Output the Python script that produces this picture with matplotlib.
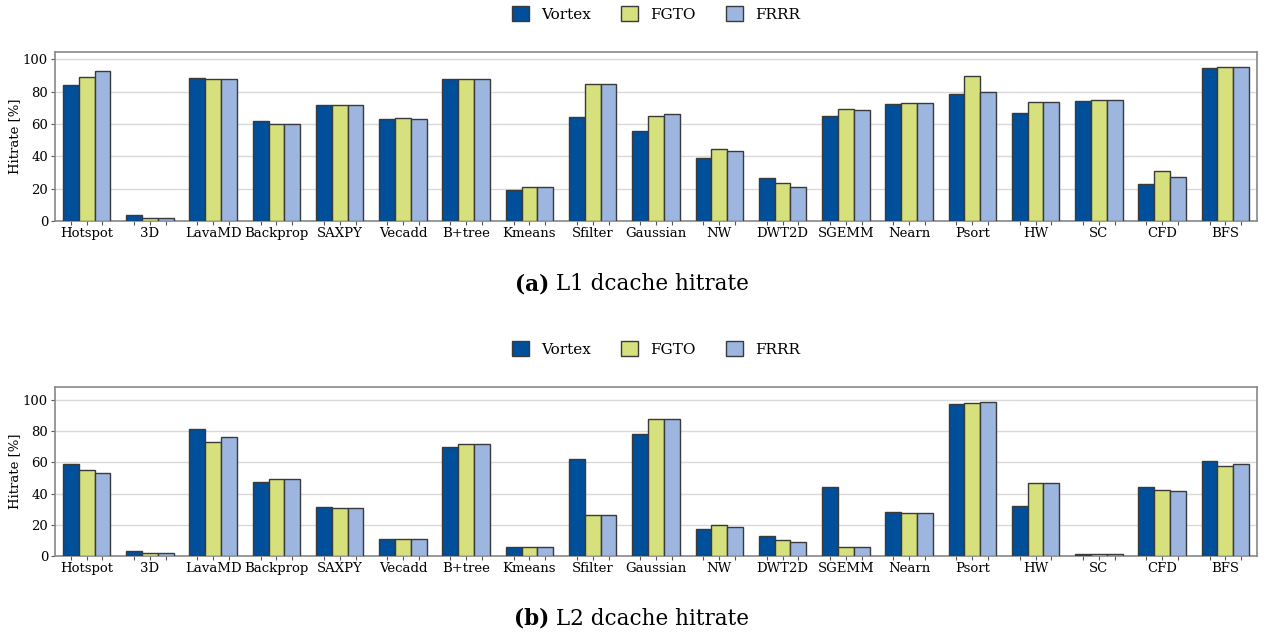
import numpy as np
import matplotlib
matplotlib.use("Agg")
import matplotlib.pyplot as plt

plt.rcParams["font.family"] = "DejaVu Serif"

benchmarks = ["Hotspot", "3D", "LavaMD", "Backprop", "SAXPY", "Vecadd", "B+tree",
              "Kmeans", "Sfilter", "Gaussian", "NW", "DWT2D", "SGEMM", "Nearn",
              "Psort", "HW", "SC", "CFD", "BFS"]
series_names = ["Vortex", "FGTO", "FRRR"]
colors = ["#004f9a", "#d6e07c", "#9db6e0"]

# L1 dcache hitrate (%)
l1_vortex = [84.1, 3.7, 88.6, 62.1, 71.6, 62.9, 87.8, 19.0, 64.2, 55.9, 38.7, 26.3,
             65.2, 72.5, 78.5, 66.5, 74.5, 23.0, 94.6]
l1_fgto = [88.8, 2.1, 87.6, 59.8, 71.6, 63.4, 88.0, 21.1, 84.7, 65.2, 44.5, 23.4,
           69.4, 72.7, 89.4, 73.5, 74.7, 31.1, 95.0]
l1_frrr = [92.5, 1.7, 87.8, 60.2, 71.6, 62.9, 88.0, 21.1, 84.7, 66.0, 43.1, 21.1,
           68.9, 72.7, 79.5, 73.5, 74.7, 26.9, 95.0]

# L2 dcache hitrate (%)
l2_vortex = [58.7, 3.4, 81.4, 47.3, 31.3, 11.1, 70.0, 6.0, 62.5, 78.2, 17.6, 12.6,
             44.5, 28.3, 97.4, 32.1, 1.3, 44.3, 60.6]
l2_fgto = [55.0, 2.1, 73.0, 49.5, 30.8, 11.1, 71.7, 6.0, 26.1, 88.0, 20.1, 10.5,
           6.0, 27.8, 97.9, 46.5, 1.3, 42.6, 58.0]
l2_frrr = [52.9, 1.9, 76.0, 49.3, 31.0, 11.1, 71.7, 6.0, 26.1, 88.0, 18.8, 9.2,
           6.0, 27.6, 98.5, 46.7, 1.3, 41.5, 58.7]

panels = [
    ([l1_vortex, l1_fgto, l1_frrr], "(a)", "L1 dcache hitrate"),
    ([l2_vortex, l2_fgto, l2_frrr], "(b)", "L2 dcache hitrate"),
]

W, H = 1265, 635
fig = plt.figure(figsize=(W / 100, H / 100), dpi=100)

x = np.arange(len(benchmarks))
width = 0.25
axes_top = [52, 387]

for (data, tag, caption), top in zip(panels, axes_top):
    ax = fig.add_axes([55 / W, 1 - (top + 169) / H, 1202 / W, 169 / H])
    ticks = []
    for i, (vals, name, col) in enumerate(zip(data, series_names, colors)):
        pos = x + (i - 1) * width
        ax.bar(pos, vals, width, color=col, edgecolor="#3a3a3a", linewidth=1,
               label=name, zorder=3)
        ticks.extend(pos)
    ticks = np.sort(np.array(ticks))
    # one tick per bar, label only under the middle bar of each group
    labels = [benchmarks[int(round(t))] if abs(t - round(t)) < 1e-6 else "" for t in ticks]
    ax.set_xticks(ticks)
    ax.set_xticklabels(labels, fontsize=9.5)
    ax.tick_params(axis="x", length=3, pad=1, color="#555555")
    ax.tick_params(axis="y", length=3, labelsize=9.5, color="#555555", pad=2)
    ax.set_xlim(-0.5, len(benchmarks) - 0.5)
    ymax = max(max(d) for d in data) * 1.1
    ax.set_ylim(0, ymax)
    ax.set_yticks([0, 20, 40, 60, 80, 100])
    ax.set_ylabel("Hitrate [%]", fontsize=9.5, labelpad=1)
    ax.grid(axis="y", color="#d9d9d9", linewidth=1, zorder=0)
    ax.set_axisbelow(True)
    for s in ax.spines.values():
        s.set_color("#888888")
        s.set_linewidth(1.2)
    ax.legend(loc="center", bbox_to_anchor=(0.5, 1 + 38 / 169), ncol=3, frameon=False,
              fontsize=11, handlelength=1.1, handleheight=1.1, columnspacing=2.0,
              handletextpad=0.8)
    cy = 1 - (top + 232) / H
    fig.text(549 / W, cy, tag, ha="right", va="center", fontsize=15.5, fontweight="bold")
    fig.text(556 / W, cy, caption, ha="left", va="center", fontsize=15.5)

fig.savefig("out.png", dpi=100)
